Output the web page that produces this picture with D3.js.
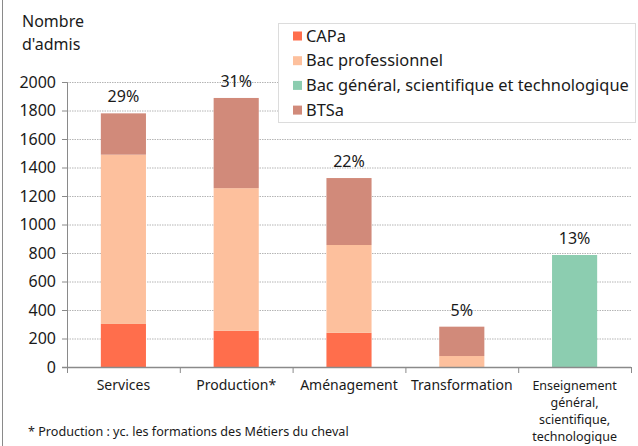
<!DOCTYPE html>
<html>
<head>
<meta charset="utf-8">
<script src="https://cdn.jsdelivr.net/npm/d3@7"></script>
<style>
  body { margin: 0; background: #fff; }
  text { font-family: "Noto Sans", sans-serif; fill: #1a1a1a; }
</style>
</head>
<body>
<div id="chart"></div>
<script>
// categories and series (nombre d'admis)
const categories = ["Services", "Production*", "Aménagement", "Transformation", "Enseignement général, scientifique, technologique"];
const categoryLines = [["Services"], ["Production*"], ["Aménagement"], ["Transformation"], ["Enseignement", "général,", "scientifique,", "technologique"]];
const seriesNames = ["CAPa", "Bac professionnel", "Bac général, scientifique et technologique", "BTSa"];
const capa = [302, 255, 240, 0, 0];
const bacPro = [1188, 1000, 616, 77, 0];
const bacGen = [0, 0, 0, 0, 786];
const btsa = [290, 633, 470, 206, 0];
const shares = ["29%", "31%", "22%", "5%", "13%"];
const yTicks = [0, 200, 400, 600, 800, 1000, 1200, 1400, 1600, 1800, 2000];
const colors = ["#ff6e4c", "#fdc09d", "#8ccdb0", "#d18a7a"];

const width = 638, height = 446;
const margin = { top: 82, right: 7, bottom: 79, left: 67 };
const innerW = width - margin.left - margin.right;
const innerH = height - margin.top - margin.bottom;

const svg = d3.select("#chart").append("svg")
    .attr("width", width)
    .attr("height", height);

// left frame line
svg.append("line")
    .attr("x1", 2.5).attr("x2", 2.5).attr("y1", 0).attr("y2", height)
    .attr("stroke", "#8a8a8a").attr("stroke-width", 1);

const g = svg.append("g").attr("transform", `translate(${margin.left},${margin.top})`);

const x = d3.scaleBand().domain(categories).range([0, innerW]).paddingInner(0.6).paddingOuter(0.3);
const xBand = d3.scaleBand().domain(categories).range([0, innerW]);
const y = d3.scaleLinear().domain([0, 2000]).range([innerH, 0]);

// gridlines
g.append("g").selectAll("line")
    .data(yTicks.filter(d => d > 0))
    .enter().append("line")
    .attr("x1", 0).attr("x2", innerW)
    .attr("y1", d => y(d) + 0.5).attr("y2", d => y(d) + 0.5)
    .attr("stroke", "#b5b5b5")
    .attr("stroke-dasharray", "1.5,1");

// stack
const table = categories.map((c, i) => ({ cat: c, s0: capa[i], s1: bacPro[i], s2: bacGen[i], s3: btsa[i] }));
const stacked = d3.stack().keys(["s0", "s1", "s2", "s3"])(table);

g.append("g").selectAll("g")
    .data(stacked)
    .enter().append("g")
    .attr("fill", (d, i) => colors[i])
    .selectAll("rect")
    .data(d => d)
    .enter().append("rect")
    .attr("x", d => x(d.data.cat))
    .attr("y", d => y(d[1]))
    .attr("width", x.bandwidth())
    .attr("height", d => y(d[0]) - y(d[1]));

// share labels
g.append("g").selectAll("text")
    .data(table)
    .enter().append("text")
    .attr("x", d => x(d.cat) + x.bandwidth() / 2)
    .attr("y", d => y(d.s0 + d.s1 + d.s2 + d.s3) - 11)
    .attr("text-anchor", "middle")
    .attr("font-size", "16px")
    .text((d, i) => shares[i]);

// y axis
const yAxis = g.append("g")
    .call(d3.axisLeft(y).tickValues(yTicks).tickFormat(d3.format("d")).tickSize(5).tickPadding(6));
yAxis.selectAll("text").attr("font-size", "16px").style("font-family", "Noto Sans, sans-serif").attr("fill", "#1a1a1a");
yAxis.select(".domain").attr("stroke", "#8a8a8a").attr("d", `M-5,0.5H0.5V${innerH}`);
yAxis.selectAll(".tick line").attr("stroke", "#8a8a8a");

// x axis
const xAxisG = g.append("g").attr("transform", `translate(0,${innerH})`);
xAxisG.append("line")
    .attr("x1", -5).attr("x2", innerW).attr("y1", 0.5).attr("y2", 0.5)
    .attr("stroke", "#8a8a8a").attr("stroke-width", 1.5);
xAxisG.selectAll("line.tk")
    .data(categories.map(c => xBand(c)).concat([innerW]))
    .enter().append("line")
    .attr("class", "tk")
    .attr("x1", d => d + 0.5).attr("x2", d => d + 0.5)
    .attr("y1", 0).attr("y2", 6)
    .attr("stroke", "#8a8a8a");
const xl = xAxisG.selectAll("text.cat")
    .data(categories)
    .enter().append("text")
    .attr("class", "cat")
    .attr("text-anchor", "middle")
    .attr("font-size", (d, i) => categoryLines[i].length > 1 ? "12.5px" : "14px")
    .attr("x", d => xBand(d) + xBand.bandwidth() / 2)
    .attr("y", 23);
xl.selectAll("tspan")
    .data((d, i) => categoryLines[i])
    .enter().append("tspan")
    .attr("x", function () { return d3.select(this.parentNode).attr("x"); })
    .attr("dy", (d, i) => i === 0 ? 0 : 17)
    .text(d => d);

// y axis title
svg.append("text")
    .attr("x", 22).attr("y", 27)
    .attr("font-size", "16px")
    .text("Nombre");
svg.append("text")
    .attr("x", 22).attr("y", 50)
    .attr("font-size", "16px")
    .text("d'admis");

// legend
const legend = svg.append("g").attr("transform", "translate(278,23)");
legend.append("rect")
    .attr("x", 0.5).attr("y", 0.5)
    .attr("width", 357).attr("height", 99)
    .attr("fill", "#fff")
    .attr("stroke", "#dcdcdc");
const items = legend.selectAll("g.item")
    .data(seriesNames)
    .enter().append("g")
    .attr("class", "item")
    .attr("transform", (d, i) => `translate(15,${13 + i * 24.7})`);
items.append("rect")
    .attr("x", 0).attr("y", -4.5)
    .attr("width", 9).attr("height", 9)
    .attr("fill", (d, i) => colors[i]);
items.append("text")
    .attr("x", 13).attr("y", 5.5)
    .attr("font-size", "16.4px")
    .text(d => d);

// footnote
svg.append("text")
    .attr("x", 28).attr("y", 436)
    .attr("font-size", "12.6px")
    .text("* Production : yc. les formations des Métiers du cheval");
</script>
</body>
</html>
